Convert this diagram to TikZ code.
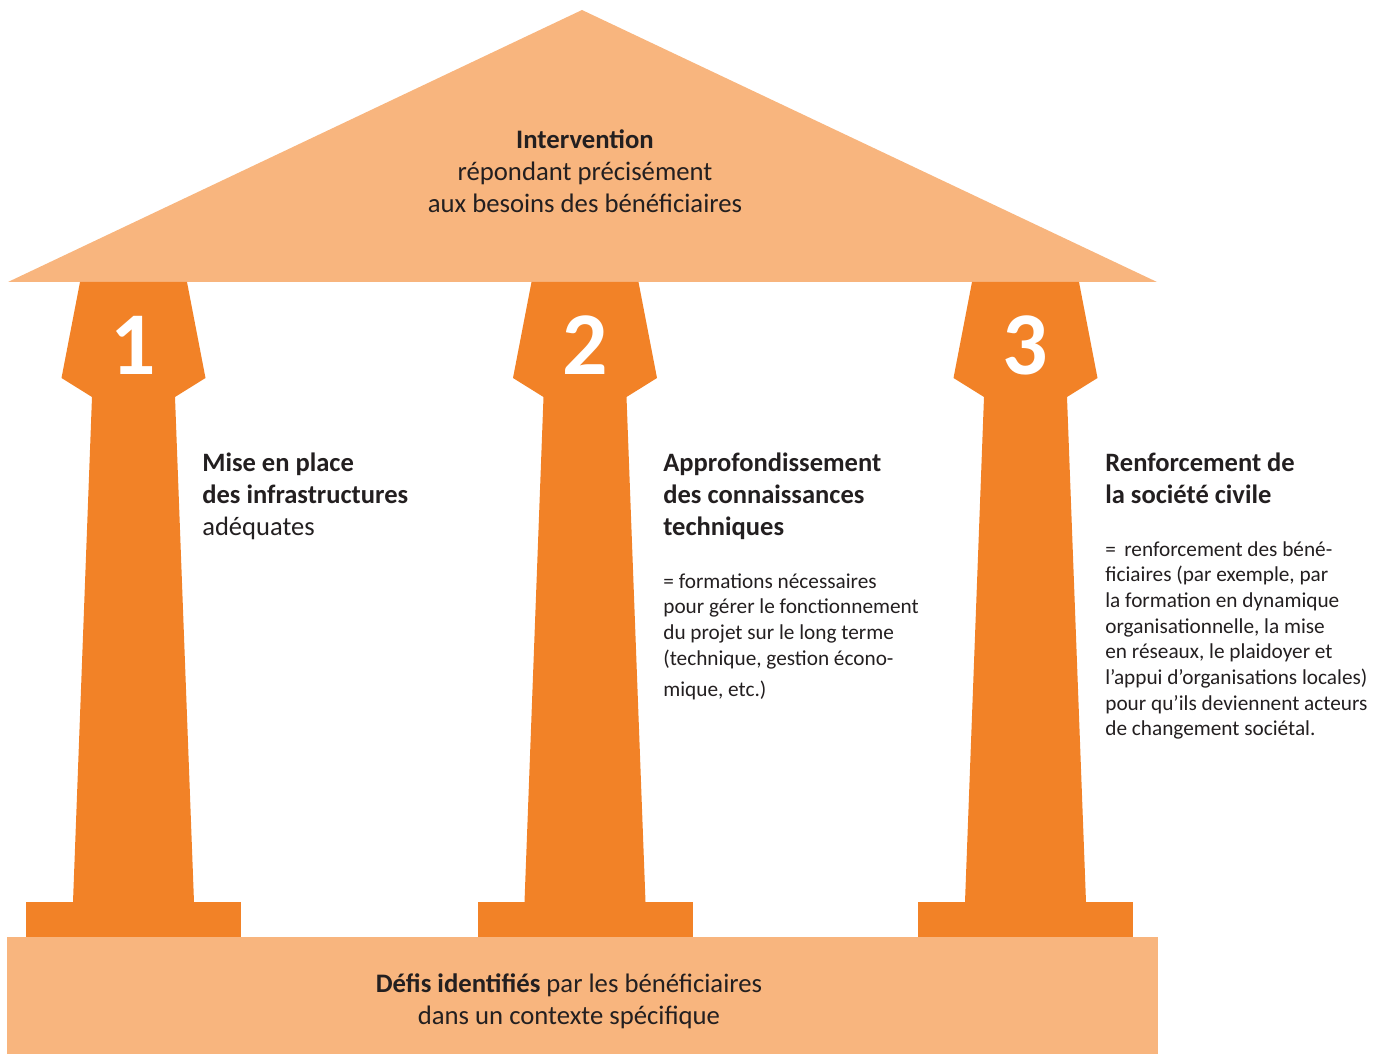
\documentclass[tikz,border=0pt]{standalone}
\usepackage{fontspec}
\setmainfont{Carlito}
\definecolor{roof}{HTML}{F8B57E}
\definecolor{pillar}{HTML}{F28227}
\definecolor{ink}{HTML}{231F20}

\begin{document}
\begin{tikzpicture}
    [
    x=0.02cm, y=-0.02cm,
    every node/.style={text=ink, inner sep=0pt},
    title/.style={font=\fontsize{15.2}{18.2}\selectfont, align=center},
    heading/.style={font=\fontsize{15.1}{18.2}\selectfont, align=left, anchor=north west},
    detail/.style={font=\fontsize{12.1}{14.6}\selectfont, align=left, anchor=north west},
    number/.style={font=\fontsize{51}{51}\selectfont\bfseries, text=white}
    ]

\useasboundingbox (0,0) rectangle (1383,1054);

% Roof
    \fill[roof] (8,282) -- (582,10) -- (1157,282) -- cycle;
    \node[title, anchor=north] (roof_text) at (585,129) {\textbf{Intervention}\\répondant précisément\\aux besoins des bénéficiaires};

% Base
    \fill[roof] (7,937) rectangle (1158,1054);
    \node[title, anchor=north] (base_text) at (569,973) {\textbf{Défis identifiés} par les bénéficiaires\\dans un contexte spécifique};

% Pillars
    \foreach \cx/\n in {133.5/1, 585/2, 1025.5/3} {
        \fill[pillar] ({\cx-53.5},282) -- ({\cx+53.5},282) -- ({\cx+72},378) -- ({\cx+41.5},397)
            -- ({\cx+60.5},902) -- ({\cx-60.5},902) -- ({\cx-41.5},397) -- ({\cx-72},378) -- cycle;
        \fill[pillar] ({\cx-107.5},902) rectangle ({\cx+107.5},937);
        \node[number] (num\n) at (\cx,345) {\n};
    }

% Pillar texts
    \node[heading] (infra) at (202,453) {\textbf{Mise en place}\\\textbf{des infrastructures}\\adéquates};
    \node[heading] (savoir) at (663,453) {\textbf{Approfondissement}\\\textbf{des connaissances}\\\textbf{techniques}};
    \node[detail] (savoir_text) at (663,573) {= formations nécessaires\\pour gérer le fonctionnement\\du projet sur le long terme\\(technique, gestion écono-\\[3.4pt]mique, etc.)};
    \node[heading] (societe) at (1105,453) {\textbf{Renforcement de}\\\textbf{la société civile}};
    \node[detail] (societe_text) at (1105,541) {=\, renforcement des béné-\\ficiaires (par exemple, par\\la formation en dynamique\\organisationnelle, la mise\\en réseaux, le plaidoyer et\\l'appui d'organisations locales)\\pour qu'ils deviennent acteurs\\de changement sociétal.};

\end{tikzpicture}
\end{document}
